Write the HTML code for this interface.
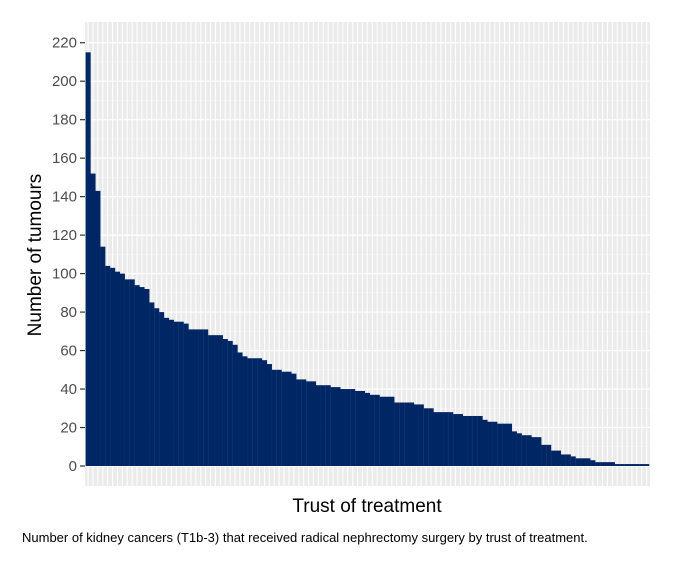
<!DOCTYPE html>
<html><head><meta charset="utf-8"><style>
body{margin:0;background:#fff;width:694px;height:585px;overflow:hidden;font-family:"Liberation Sans",sans-serif}
svg{display:block}
</style></head><body>
<svg width="694" height="585" id="chart">
<rect x="85" y="22" width="565" height="464" fill="#EBEBEB"/>
<g id="grid"></g><g id="bars"></g><g id="axis"></g>
<text x="367" y="512" font-size="19" text-anchor="middle" fill="#000">Trust of treatment</text>
<text transform="translate(41,255) rotate(-90)" font-size="19" text-anchor="middle" fill="#000">Number of tumours</text>
<text x="22" y="542" font-size="13" fill="#000">Number of kidney cancers (T1b-3) that received radical nephrectomy surgery by trust of treatment.</text>
</svg>
<script>
const values=[215,152,143,114,104,103,101,100,97,97,94,93,92,85,82,80,77,76,75,75,74,71,71,71,71,68,68,68,66,65,63,59,57,56,56,56,55,53,50,50,49,49,48,45,45,44,44,42,42,42,41,41,40,40,40,39,39,38,37,37,36,36,36,33,33,33,33,32,32,30,30,28,28,28,28,27,27,26,26,26,26,24,23,23,22,22,22,18,17,16,16,15,15,11,11,8,8,6,6,5,4,4,4,3,2,2,2,2,1,1,1,1,1,1,1];
const yTicks=[0,20,40,60,80,100,120,140,160,180,200,220];
const NS="http://www.w3.org/2000/svg";
const x0=85.6,bw=4.9,yZero=466,yScale=1.924;
function xs(i){return x0+i*bw;}
function ys(v){return yZero-v*yScale;}
function mk(tag,attrs,parent){const e=document.createElementNS(NS,tag);for(const k in attrs)e.setAttribute(k,attrs[k]);parent.appendChild(e);return e;}
const grid=document.getElementById('grid'),bars=document.getElementById('bars'),axis=document.getElementById('axis');
for(let v=10;v<=220;v+=20){const l=mk('line',{x1:85,x2:650,y1:ys(v),y2:ys(v),stroke:'#F5F5F5','stroke-width':0.6},grid);

}
yTicks.forEach(v=>{const l=mk('line',{x1:85,x2:650,y1:ys(v),y2:ys(v),stroke:'#fff','stroke-width':1.2},grid);


const t=mk('line',{x1:80,x2:85,y1:ys(v),y2:ys(v),stroke:'#333','stroke-width':1.2},axis);


const tx=mk('text',{x:77,y:ys(v)+5,'font-size':15,'text-anchor':'end',fill:'#4D4D4D'},axis);
tx.textContent=v;

});
values.forEach((v,i)=>{const l=mk('line',{x1:xs(i)+bw/2,x2:xs(i)+bw/2,y1:22,y2:486,stroke:'#fff','stroke-width':1},grid);


const r=mk('rect',{x:xs(i),y:ys(v),width:bw+0.15,height:v*yScale,fill:'#002664'},bars);

});
</script>
</body></html>
